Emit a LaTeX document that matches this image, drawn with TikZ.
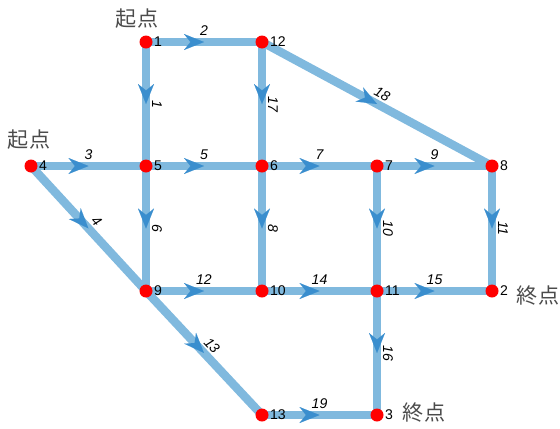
\documentclass[tikz,border=0pt]{standalone}
\usepackage{fontspec}
\setmainfont{Liberation Sans}
\newfontfamily\cjkfont{Noto Sans CJK JP}
\usetikzlibrary{arrows.meta,decorations.markings}
\pgfdeclarelayer{background}
\pgfsetlayers{background,main}
\definecolor{edgeblue}{RGB}{128,185,222}
\definecolor{tipblue}{RGB}{58,142,206}
\definecolor{notegray}{RGB}{75,75,75}
\tikzset{
  edge/.style={draw=edgeblue, line width=0.17cm, postaction={decorate},
    decoration={markings, mark=at position 0.5 with
      {\arrow{Stealth[length=0.40cm, width=0.32cm, inset=0.13cm, line width=0.01pt, color=tipblue]}}}},
  vertex/.style={circle, fill=red, inner sep=0pt, minimum size=0.26cm},
  vertexlabel/.style={font=\fontsize{8}{9}\selectfont, inner sep=0.5pt, label distance=0pt},
  edgelabel/.style={font=\fontsize{8}{9}\selectfont\itshape, midway, sloped, above, inner sep=1pt, allow upside down},
  endlabel/.style={font=\cjkfont\fontsize{12}{14}\selectfont, text=notegray},
}
\begin{document}
\begin{tikzpicture}
\useasboundingbox (0,0) rectangle (11.2,8.56);
\node[vertex, label={[vertexlabel]right:1}] (n1) at (2.920,7.720) {};
\node[vertex, label={[vertexlabel]right:12}] (n12) at (5.240,7.720) {};
\node[vertex, label={[vertexlabel]right:4}] (n4) at (0.620,5.240) {};
\node[vertex, label={[vertexlabel]right:5}] (n5) at (2.920,5.240) {};
\node[vertex, label={[vertexlabel]right:6}] (n6) at (5.240,5.240) {};
\node[vertex, label={[vertexlabel]right:7}] (n7) at (7.540,5.240) {};
\node[vertex, label={[vertexlabel]right:8}] (n8) at (9.840,5.240) {};
\node[vertex, label={[vertexlabel]right:9}] (n9) at (2.920,2.740) {};
\node[vertex, label={[vertexlabel]right:10}] (n10) at (5.240,2.740) {};
\node[vertex, label={[vertexlabel]right:11}] (n11) at (7.540,2.740) {};
\node[vertex, label={[vertexlabel]right:2}] (n2) at (9.840,2.740) {};
\node[vertex, label={[vertexlabel]right:13}] (n13) at (5.240,0.260) {};
\node[vertex, label={[vertexlabel]right:3}] (n3) at (7.540,0.260) {};
% edges go under the dots
\begin{pgfonlayer}{background}
\draw[edge] (n1.center) -- node[edgelabel] {1} (n5.center);
\draw[edge] (n1.center) -- node[edgelabel] {2} (n12.center);
\draw[edge] (n4.center) -- node[edgelabel] {3} (n5.center);
\draw[edge] (n4.center) -- node[edgelabel] {4} (n9.center);
\draw[edge] (n5.center) -- node[edgelabel] {5} (n6.center);
\draw[edge] (n5.center) -- node[edgelabel] {6} (n9.center);
\draw[edge] (n6.center) -- node[edgelabel] {7} (n7.center);
\draw[edge] (n6.center) -- node[edgelabel] {8} (n10.center);
\draw[edge] (n7.center) -- node[edgelabel] {9} (n8.center);
\draw[edge] (n7.center) -- node[edgelabel] {10} (n11.center);
\draw[edge] (n8.center) -- node[edgelabel] {11} (n2.center);
\draw[edge] (n9.center) -- node[edgelabel] {12} (n10.center);
\draw[edge] (n9.center) -- node[edgelabel] {13} (n13.center);
\draw[edge] (n10.center) -- node[edgelabel] {14} (n11.center);
\draw[edge] (n11.center) -- node[edgelabel] {15} (n2.center);
\draw[edge] (n11.center) -- node[edgelabel] {16} (n3.center);
\draw[edge] (n12.center) -- node[edgelabel] {17} (n6.center);
\draw[edge] (n12.center) -- node[edgelabel] {18} (n8.center);
\draw[edge] (n13.center) -- node[edgelabel] {19} (n3.center);
\end{pgfonlayer}
\node[endlabel] (start1) at (2.740,8.180) {起点};
\node[endlabel] (start4) at (0.580,5.760) {起点};
\node[endlabel] (end2) at (10.760,2.640) {終点};
\node[endlabel] (end3) at (8.480,0.300) {終点};
\end{tikzpicture}
\end{document}
